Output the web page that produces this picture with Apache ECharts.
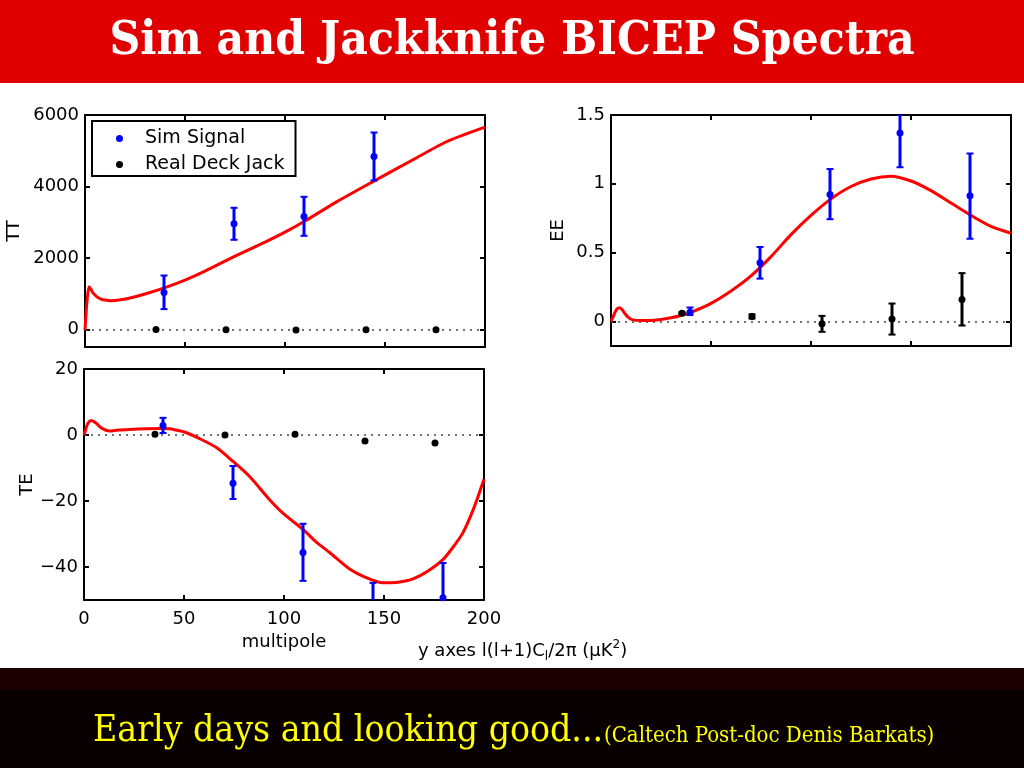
<!DOCTYPE html>
<html><head><meta charset="utf-8">
<script src="https://cdn.jsdelivr.net/npm/echarts@6/dist/echarts.min.js"></script>
<style>html,body{margin:0;padding:0;background:#fff}#c{width:1024px;height:768px}</style>
</head><body><div id="c"></div>
<script>
// ---------- tick labels ----------
const xTicks = [0, 50, 100, 150, 200];
const ttTicks = [0, 2000, 4000, 6000];
const eeTicks = [0, 0.5, 1, 1.5];
const teTicks = [-40, -20, 0, 20];

// ---------- TT ----------
const ttCurveL = [0,1,2,3,4,6,8,10,13,17,22,30,40,50,60,74,90,100,110,126,144,164,181,200];
const ttCurveV = [0,800,1200,1130,1030,920,860,830,815,830,880,1000,1180,1390,1640,2030,2450,2730,3040,3580,4140,4750,5260,5660];
const ttSimL  = [39.5, 74.5, 109.5, 144.5];
const ttSimV  = [1040, 2960, 3165, 4840];
const ttSimLo = [578, 2514, 2626, 4170];
const ttSimHi = [1517, 3408, 3715, 5511];
const ttJackL = [35.5, 70.5, 105.5, 140.5, 175.5];
const ttJackV = [10, 0, -5, 5, 0];

// ---------- EE ----------
const eeCurveL = [0,1,2,3,4.2,5.5,7,8.5,10.5,15,20,25,30,35,40,50,60,70,80,90,100,110,120,130,140,150,160,170,180,190,200];
const eeCurveV = [0,0.03,0.065,0.09,0.098,0.085,0.055,0.03,0.012,0.005,0.006,0.012,0.025,0.042,0.065,0.13,0.22,0.33,0.47,0.63,0.77,0.89,0.98,1.035,1.055,1.02,0.95,0.86,0.77,0.69,0.64];
const eeSimL  = [39.5, 74.5, 109.5, 144.5, 179.5];
const eeSimV  = [0.066, 0.426, 0.922, 1.37, 0.913];
const eeSimLo = [0.045, 0.31, 0.742, 1.12, 0.60];
const eeSimHi = [0.10, 0.54, 1.107, 1.50, 1.22];
const eeJackL  = [35.5, 70.5, 105.5, 140.5, 175.5];
const eeJackV  = [0.058, 0.035, -0.019, 0.017, 0.158];
const eeJackLo = [0.05, 0.02, -0.077, -0.097, -0.031];
const eeJackHi = [0.066, 0.05, 0.039, 0.129, 0.35];

// ---------- TE ----------
const teCurveL = [0,1,2,3.7,6,9,12.8,17,22.8,31.2,38,42.8,46,50.3,57.8,66.2,74.7,82.8,92.8,100,109.5,116,122.8,132.8,141,149.5,157,164.5,172,179.7,185,189.5,195,200];
const teCurveV = [0,2.0,3.6,4.4,3.6,2.0,1.2,1.5,1.7,1.9,1.95,1.9,1.5,0.9,-1.1,-3.8,-8.1,-12.6,-19.6,-24,-28.6,-32.4,-35.6,-40.6,-43.2,-44.8,-44.6,-43.6,-41.2,-37.6,-33.6,-29.6,-22,-13.4];
const teSimL  = [39.5, 74.5, 109.5, 144.5, 179.5];
const teSimV  = [2.9, -14.6, -35.6, -54, -49.3];
const teSimLo = [0.6, -19.4, -44.2, -63, -60];
const teSimHi = [5.2, -9.4, -26.9, -44.8, -38.8];
const teJackL = [35.5, 70.5, 105.5, 140.5, 175.5];
const teJackV = [0.2, 0, 0.2, -1.8, -2.4];

const FONT = 'DejaVu Sans';
const lineW = 2;
const minus = v => String(v).replace('-', '\u2212');

function xAx(grid, pos, showLabel, name) {
  return {
    type: 'value', gridIndex: grid, position: pos, min: 0, max: 200, interval: 50,
    splitLine: {show: false},
    axisLine: {onZero: false, lineStyle: {color: '#000', width: lineW}},
    axisTick: {inside: true, length: 5, lineStyle: {color: '#000', width: lineW}},
    axisLabel: {show: showLabel, margin: 10, color: '#000', fontFamily: FONT, fontSize: 18,
      customValues: xTicks},
    name: name || '', nameLocation: 'middle', nameGap: 33,
    nameTextStyle: {color: '#000', fontFamily: FONT, fontSize: 18}
  };
}
function yAx(grid, pos, min, max, ticks, showLabel, name, gap) {
  return {
    type: 'value', gridIndex: grid, position: pos, min: min, max: max,
    splitLine: {show: false},
    axisLine: {onZero: false, lineStyle: {color: '#000', width: lineW}},
    axisTick: {inside: true, length: 5, customValues: ticks, lineStyle: {color: '#000', width: lineW}},
    axisLabel: {show: showLabel, margin: 6, color: '#000', fontFamily: FONT, fontSize: 18,
      customValues: ticks, formatter: minus},
    name: name || '', nameLocation: 'middle', nameGap: gap || 0, nameRotate: 90,
    nameTextStyle: {color: '#000', fontFamily: FONT, fontSize: 18}
  };
}

function curve(xi, L, V) {
  return {type: 'line', name: 'model', xAxisIndex: xi, yAxisIndex: xi, z: 3,
    data: L.map((l, i) => [l, V[i]]), showSymbol: false, smooth: 0.25,
    lineStyle: {color: '#ff0000', width: 3}, itemStyle: {color: '#ff0000'}, silent: true, clip: true};
}
function pts(xi, name, L, V, color, zero) {
  const s = {type: 'scatter', name: name, xAxisIndex: xi, yAxisIndex: xi, z: 5,
    data: L.map((l, i) => [l, V[i]]), symbolSize: 7, itemStyle: {color: color, opacity: 1}, silent: true, clip: true};
  if (zero) {
    s.markLine = {silent: true, symbol: 'none', z: 1, label: {show: false},
      lineStyle: {type: [2, 5], color: '#444', width: 1.6}, data: [{yAxis: 0}]};
  }
  return s;
}
function err(xi, L, lo, hi, color) {
  return {type: 'custom', name: 'err', xAxisIndex: xi, yAxisIndex: xi, z: 4, clip: true, silent: true,
    data: L.map((l, i) => [l, lo[i], hi[i]]),
    encode: {x: 0, y: [1, 2]},
    renderItem: function (params, api) {
      const a = api.coord([api.value(0), api.value(1)]);
      const b = api.coord([api.value(0), api.value(2)]);
      const w = 3.5;
      return {type: 'group', children: [
        {type: 'line', shape: {x1: a[0], y1: a[1], x2: b[0], y2: b[1]}, style: {stroke: color, lineWidth: 3}},
        {type: 'line', shape: {x1: a[0] - w, y1: a[1], x2: a[0] + w, y2: a[1]}, style: {stroke: color, lineWidth: 2}},
        {type: 'line', shape: {x1: b[0] - w, y1: b[1], x2: b[0] + w, y2: b[1]}, style: {stroke: color, lineWidth: 2}}
      ]};
    }};
}

const chart = echarts.init(document.getElementById('c'), null, {renderer: 'canvas'});
chart.setOption({
  animation: false,
  backgroundColor: '#fff',
  grid: [
    {left: 85, top: 115, width: 400, height: 232},
    {left: 611, top: 115, width: 400, height: 231},
    {left: 84, top: 369, width: 400, height: 231}
  ],
  xAxis: [
    xAx(0, 'bottom', false), xAx(1, 'bottom', false), xAx(2, 'bottom', true, 'multipole'),
    xAx(0, 'top', false), xAx(1, 'top', false), xAx(2, 'top', false)
  ],
  yAxis: [
    yAx(0, 'left', -480, 6000, ttTicks, true, 'TT', 62),
    yAx(1, 'left', -0.18, 1.5, eeTicks, true, 'EE', 44),
    yAx(2, 'left', -50, 20, teTicks, true, 'TE', 47),
    yAx(0, 'right', -480, 6000, ttTicks, false),
    yAx(1, 'right', -0.18, 1.5, eeTicks, false),
    yAx(2, 'right', -50, 20, teTicks, false)
  ],
  legend: {
    data: ['Sim Signal', 'Real Deck Jack'], left: 92, top: 121, orient: 'vertical',
    itemWidth: 7, itemHeight: 7, itemGap: 7, padding: [8, 11, 2, 24], icon: 'circle',
    borderColor: '#000', borderWidth: 2, backgroundColor: '#fff', selectedMode: false,
    textStyle: {fontFamily: FONT, fontSize: 19, color: '#000', padding: [0, 0, 0, 17]}
  },
  series: [
    pts(0, 'Real Deck Jack', ttJackL, ttJackV, '#000', true),
    curve(0, ttCurveL, ttCurveV),
    err(0, ttSimL, ttSimLo, ttSimHi, '#0000ff'),
    pts(0, 'Sim Signal', ttSimL, ttSimV, '#0000ff'),

    pts(1, 'Real Deck Jack', eeJackL, eeJackV, '#000', true),
    err(1, eeJackL, eeJackLo, eeJackHi, '#000'),
    curve(1, eeCurveL, eeCurveV),
    err(1, eeSimL, eeSimLo, eeSimHi, '#0000ff'),
    pts(1, 'Sim Signal', eeSimL, eeSimV, '#0000ff'),

    pts(2, 'Real Deck Jack', teJackL, teJackV, '#000', true),
    curve(2, teCurveL, teCurveV),
    err(2, teSimL, teSimLo, teSimHi, '#0000ff'),
    pts(2, 'Sim Signal', teSimL, teSimV, '#0000ff')
  ],
  graphic: [
    {type: 'rect', z: -10, shape: {x: 0, y: 0, width: 1024, height: 83}, style: {fill: '#e00000'}},
    {type: 'rect', z: -10, shape: {x: 0, y: 668, width: 1024, height: 100}, style: {fill: '#080000'}},
    {type: 'rect', z: -9, shape: {x: 0, y: 668, width: 1024, height: 22}, style: {fill: '#1a0000'}},
    {type: 'text', x: 512, y: 42, style: {text: 'Sim and Jackknife BICEP Spectra', align: 'center', verticalAlign: 'middle',
      font: 'bold 47.5px "DejaVu Serif Condensed", "Liberation Serif"', fill: '#ffffff'}},
    {type: 'text', x: 93, y: 731, style: {text: 'Early days and looking good...', align: 'left', verticalAlign: 'middle',
      font: 'condensed 37px "DejaVu Serif"', fill: '#ffff00'}},
    {type: 'text', x: 604, y: 736, style: {text: '(Caltech Post-doc Denis Barkats)', align: 'left', verticalAlign: 'middle',
      font: 'condensed 22px "DejaVu Serif"', fill: '#ffff00'}},
    {type: 'text', x: 418, y: 651, style: {
      text: '{a|y axes l(l+1)C}{s|l}{a|/2\u03c0 (\u03bcK}{p|2}{a|)}', verticalAlign: 'middle',
      rich: {
        a: {fontFamily: FONT, fontSize: 18, fill: '#000', verticalAlign: 'middle'},
        s: {fontFamily: FONT, fontSize: 12, fill: '#000', padding: [12, 0, 0, 0]},
        p: {fontFamily: FONT, fontSize: 12, fill: '#000', padding: [0, 0, 12, 0]}
      }}}
  ]
});
</script>
</body></html>
